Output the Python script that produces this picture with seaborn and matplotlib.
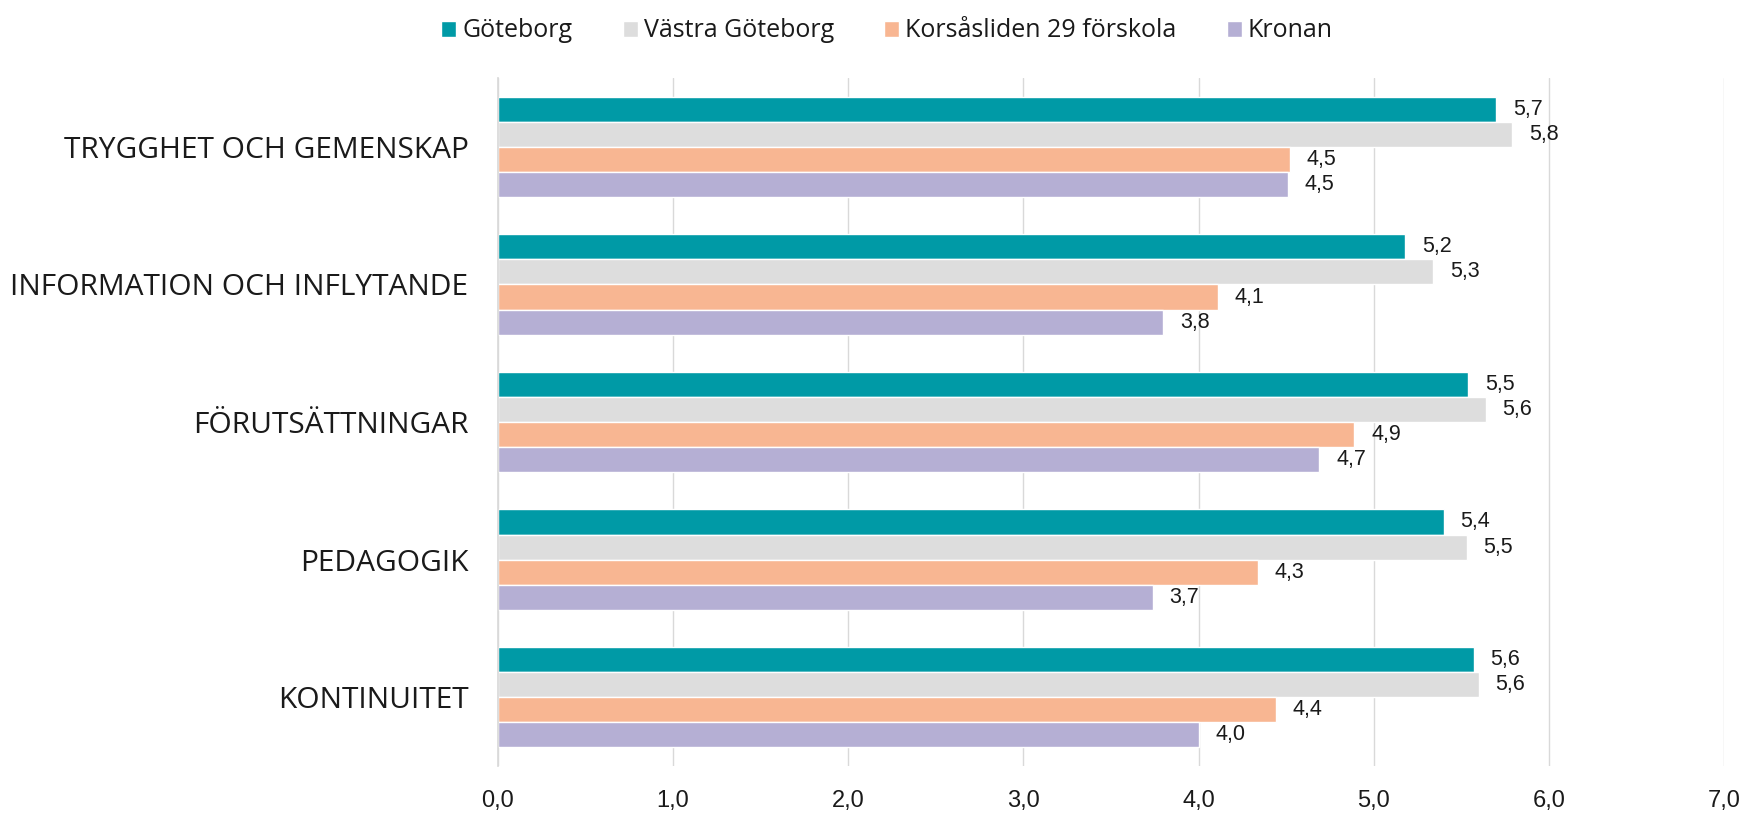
import numpy as np
import pandas as pd
import matplotlib
matplotlib.use("Agg")
import matplotlib.pyplot as plt
import seaborn as sns

# data
categories = ["TRYGGHET OCH GEMENSKAP", "INFORMATION OCH INFLYTANDE",
              "FÖRUTSÄTTNINGAR", "PEDAGOGIK", "KONTINUITET"]
series = ["Göteborg", "Västra Göteborg", "Korsåsliden 29 förskola", "Kronan"]
goteborg = [5.70, 5.18, 5.54, 5.40, 5.57]
vastra = [5.79, 5.34, 5.64, 5.53, 5.60]
korsas = [4.52, 4.11, 4.89, 4.34, 4.44]
kronan = [4.51, 3.80, 4.69, 3.74, 4.00]
xticks = [0, 1, 2, 3, 4, 5, 6, 7]

colors = ["#009AA6", "#DDDDDD", "#F8B692", "#B5AFD4"]

rows = []
for name, vals in zip(series, [goteborg, vastra, korsas, kronan]):
    for cat, v in zip(categories, vals):
        rows.append({"kategori": cat, "serie": name, "varde": v})
df = pd.DataFrame(rows)

sns.set_theme(style="white")
plt.rcParams["font.family"] = ["Open Sans", "DejaVu Sans"]

fig = plt.figure(figsize=(17.46, 8.14), dpi=100)
ax = fig.add_axes([0.285, 0.059, 0.7025, 0.845])

sns.barplot(data=df, y="kategori", x="varde", hue="serie", order=categories,
            hue_order=series, palette=colors, orient="h", width=0.73,
            gap=0, saturation=1, ax=ax, errorbar=None, legend=True)

for cont in ax.containers:
    labs = [f"{b.get_width():.1f}".replace(".", ",") for b in cont]
    ax.bar_label(cont, labels=labs, padding=12, fontsize=15.5,
                 family="Liberation Sans", color="#1a1a1a")

ax.set_xlim(0, 7)
ax.set_xticks(xticks)
ax.set_xticklabels([f"{t:.1f}".replace(".", ",") for t in xticks],
                   fontsize=17, family="Liberation Sans", color="#1a1a1a")
ax.set_ylim(len(categories) - 0.5, -0.5)
ax.set_xlabel("")
ax.set_ylabel("")
ax.tick_params(axis="y", length=0, labelsize=21.5, pad=21, labelcolor="#1a1a1a")
ax.tick_params(axis="x", length=0, pad=17)
ax.set_yticks(np.arange(-0.5, len(categories)), minor=True)
ax.tick_params(axis="y", which="minor", length=8, color="#D9D9D9", width=1)

ax.grid(axis="x", color="#D9D9D9", linewidth=1)
ax.set_axisbelow(True)
for s in ["top", "right", "bottom"]:
    ax.spines[s].set_visible(False)
ax.spines["left"].set_color("#D9D9D9")

leg = ax.legend(loc="upper center", bbox_to_anchor=(0.508, 1.005),
                bbox_transform=fig.transFigure, ncol=4, frameon=False,
                fontsize=18, handlelength=0.6, handleheight=0.6,
                handletextpad=0.25, columnspacing=2.0)
for t in leg.get_texts():
    t.set_color("#1a1a1a")

fig.savefig("out.png", dpi=100)
